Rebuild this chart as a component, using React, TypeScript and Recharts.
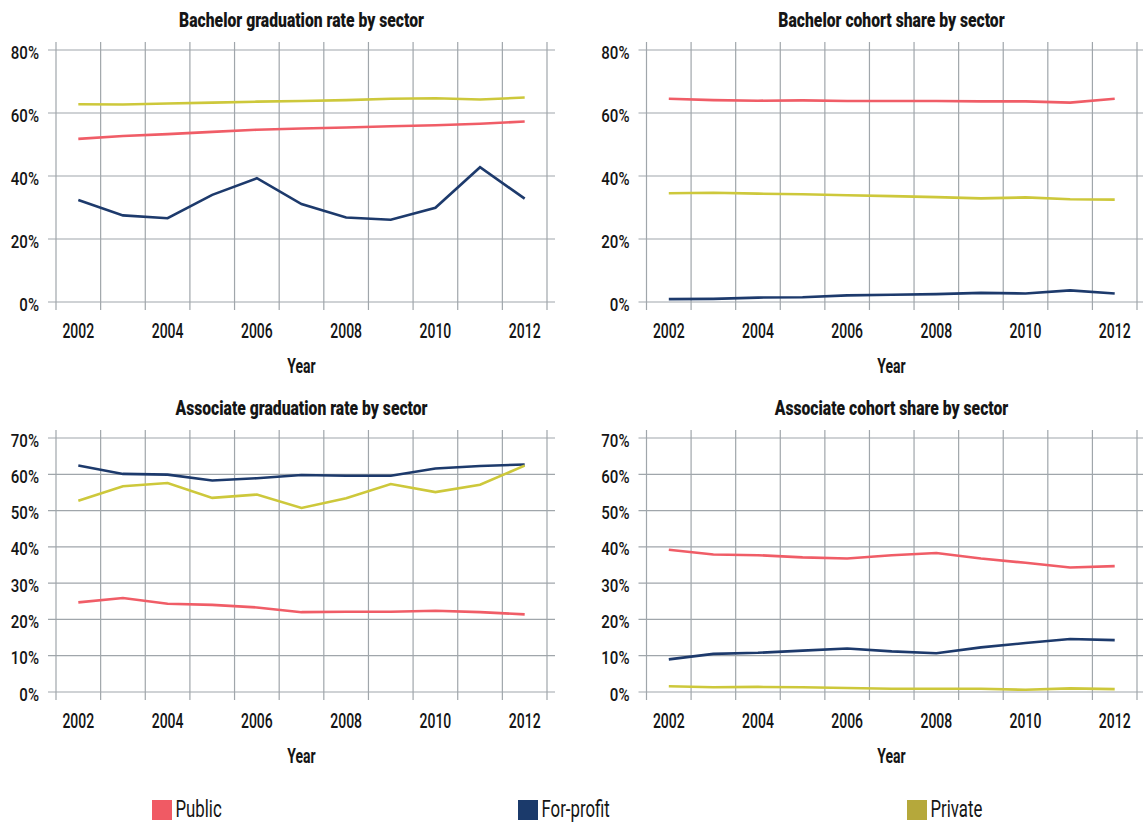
import React from "react"
import { LineChart, Line, XAxis, YAxis, CartesianGrid } from "recharts"

// Years on the x axis
const years = [2002, 2003, 2004, 2005, 2006, 2007, 2008, 2009, 2010, 2011, 2012]
// vertical grid lines sit between the years
const gridYears = [2001.5, 2002.5, 2003.5, 2004.5, 2005.5, 2006.5, 2007.5, 2008.5, 2009.5, 2010.5, 2011.5, 2012.5]
const labelYears = [2002, 2004, 2006, 2008, 2010, 2012]

const ticks80 = [0, 20, 40, 60, 80]
const ticks70 = [0, 10, 20, 30, 40, 50, 60, 70]

// Bachelor graduation rate (%)
const bachRatePublic = [51.8, 52.7, 53.3, 54.0, 54.7, 55.1, 55.4, 55.8, 56.1, 56.6, 57.3]
const bachRateForProfit = [32.4, 27.5, 26.6, 34.0, 39.3, 31.1, 26.8, 26.1, 29.9, 42.8, 32.8]
const bachRatePrivate = [62.8, 62.7, 63.0, 63.3, 63.6, 63.8, 64.1, 64.5, 64.7, 64.3, 64.9]

// Bachelor cohort share (%)
const bachSharePublic = [64.5, 64.1, 63.9, 64.0, 63.8, 63.8, 63.8, 63.7, 63.7, 63.3, 64.5]
const bachShareForProfit = [0.9, 1.0, 1.4, 1.5, 2.1, 2.3, 2.5, 2.9, 2.7, 3.7, 2.7]
const bachSharePrivate = [34.5, 34.7, 34.4, 34.2, 33.9, 33.6, 33.3, 32.9, 33.2, 32.6, 32.5]

// Associate graduation rate (%)
const assocRatePublic = [24.7, 25.9, 24.3, 24.0, 23.3, 22.0, 22.1, 22.1, 22.4, 22.0, 21.4]
const assocRateForProfit = [62.4, 60.1, 59.9, 58.3, 58.9, 59.8, 59.6, 59.6, 61.6, 62.3, 62.7]
const assocRatePrivate = [52.7, 56.7, 57.6, 53.5, 54.4, 50.7, 53.4, 57.3, 55.1, 57.1, 62.4]

// Associate cohort share (%)
const assocSharePublic = [39.2, 37.9, 37.7, 37.1, 36.8, 37.7, 38.3, 36.8, 35.6, 34.3, 34.7]
const assocShareForProfit = [9.0, 10.5, 10.8, 11.4, 12.0, 11.2, 10.7, 12.3, 13.5, 14.6, 14.3]
const assocSharePrivate = [1.6, 1.3, 1.4, 1.3, 1.1, 0.9, 0.9, 0.9, 0.6, 1.0, 0.8]

const sectors = ["Public", "For-profit", "Private"]

const LINE_COLORS = { pub: "#f05d67", fp: "#1d3a6c", priv: "#cdc83b" }
const LEGEND_COLORS = ["#f05a64", "#1b3a6b", "#b5a83b"]
const GRID = "#a0a6ab"
const TEXT = "#151515"
const FONT = "Roboto, 'DejaVu Sans', sans-serif"

// condensed look: draw text with a horizontal squeeze
const XTick = ({ x, y, payload }: any) => (
  <text
    transform={`translate(${x},${y + 27.5}) scale(0.7,1)`}
    textAnchor="middle"
    fontFamily={FONT}
    fontSize={20}
    fontWeight={500}
    fill={TEXT}
  >
    {payload.value}
  </text>
)

const YTick = ({ x, y, payload }: any) => (
  <text
    transform={`translate(${x},${y + 8.5}) scale(0.86,1)`}
    textAnchor="end"
    fontFamily={FONT}
    fontSize={17.5}
    fontWeight={500}
    fill={TEXT}
  >
    {`${payload.value}%`}
  </text>
)

interface PanelProps {
  left: number
  top: number
  width: number
  yAxisWidth: number
  rightMargin: number
  plotTop: number
  yMax: number
  yTicks: number[]
  pub: number[]
  fp: number[]
  priv: number[]
}

function Panel({ left, top, width, yAxisWidth, rightMargin, plotTop, yMax, yTicks, pub, fp, priv }: PanelProps) {
  const data = years.map((year, i) => ({ year, pub: pub[i], fp: fp[i], priv: priv[i] }))

  return (
    <div style={{ position: "absolute", left, top }}>
      <LineChart width={width} height={390} data={data} margin={{ top: plotTop, right: rightMargin, bottom: 0, left: 0 }}>
        {/* syncWithTicks: no extra lines on the plot edges */}
        <CartesianGrid xAxisId="grid" stroke={GRID} strokeWidth={1.2} syncWithTicks />
        <XAxis
          xAxisId="grid"
          dataKey="year"
          type="number"
          domain={[2001.5, 2012.5]}
          ticks={gridYears}
          interval={0}
          padding={{ left: 8, right: 8 }}
          hide
        />
        <XAxis
          dataKey="year"
          type="number"
          domain={[2001.5, 2012.5]}
          ticks={labelYears}
          interval={0}
          padding={{ left: 8, right: 8 }}
          axisLine={false}
          tickLine={false}
          tickSize={0}
          tickMargin={0}
          height={80}
          tick={<XTick />}
        />
        <YAxis
          type="number"
          domain={[0, yMax]}
          ticks={yTicks}
          interval={0}
          padding={{ top: 8, bottom: 8 }}
          width={yAxisWidth}
          axisLine={false}
          tickLine={false}
          tickSize={0}
          tickMargin={9}
          tick={<YTick />}
        />
        <Line dataKey="pub" stroke={LINE_COLORS.pub} strokeWidth={2.6} dot={false} isAnimationActive={false} />
        <Line dataKey="fp" stroke={LINE_COLORS.fp} strokeWidth={2.6} dot={false} isAnimationActive={false} />
        <Line dataKey="priv" stroke={LINE_COLORS.priv} strokeWidth={2.6} dot={false} isAnimationActive={false} />
      </LineChart>
    </div>
  )
}

const titles = [
  "Bachelor graduation rate by sector",
  "Bachelor cohort share by sector",
  "Associate graduation rate by sector",
  "Associate cohort share by sector",
]

function Squeezed({ x, y, size, scale, weight, anchor, children }: any) {
  return (
    <text
      transform={`translate(${x},${y}) scale(${scale},1)`}
      textAnchor={anchor}
      fontFamily={FONT}
      fontSize={size}
      fontWeight={weight}
      fill={TEXT}
    >
      {children}
    </text>
  )
}

export default function App() {
  // plot centres of the left and right columns
  const centers = [301.5, 891.5]
  const legendX = [152, 518, 907]

  return (
    <div style={{ position: "absolute", left: 0, top: 0, width: 1143, height: 823, overflow: "hidden", background: "#fff" }}>
      <Panel left={0} top={0} width={570} yAxisWidth={48} rightMargin={15} plotTop={42} yMax={80} yTicks={ticks80}
        pub={bachRatePublic} fp={bachRateForProfit} priv={bachRatePrivate} />
      <Panel left={570} top={0} width={580} yAxisWidth={68.5} rightMargin={5} plotTop={42} yMax={80} yTicks={ticks80}
        pub={bachSharePublic} fp={bachShareForProfit} priv={bachSharePrivate} />
      <Panel left={0} top={390} width={570} yAxisWidth={48} rightMargin={15} plotTop={40} yMax={70} yTicks={ticks70}
        pub={assocRatePublic} fp={assocRateForProfit} priv={assocRatePrivate} />
      <Panel left={570} top={390} width={580} yAxisWidth={68.5} rightMargin={5} plotTop={40} yMax={70} yTicks={ticks70}
        pub={assocSharePublic} fp={assocShareForProfit} priv={assocSharePrivate} />

      <svg width={1143} height={823} style={{ position: "absolute", left: 0, top: 0, pointerEvents: "none" }}>
        {titles.map((t, i) => (
          <Squeezed key={t} x={centers[i % 2]} y={i < 2 ? 26.7 : 415} size={20} scale={0.785} weight={900} anchor="middle">
            {t}
          </Squeezed>
        ))}
        {[0, 1, 2, 3].map((i) => (
          <Squeezed key={i} x={centers[i % 2]} y={i < 2 ? 373 : 763} size={20} scale={0.7} weight={700} anchor="middle">
            Year
          </Squeezed>
        ))}
        {sectors.map((s, i) => (
          <g key={s}>
            <rect x={legendX[i]} y={800} width={20} height={20} fill={LEGEND_COLORS[i]} />
            <Squeezed x={legendX[i] + 23.5} y={816.5} size={24} scale={0.7} weight={400} anchor="start">
              {s}
            </Squeezed>
          </g>
        ))}
      </svg>
    </div>
  )
}
